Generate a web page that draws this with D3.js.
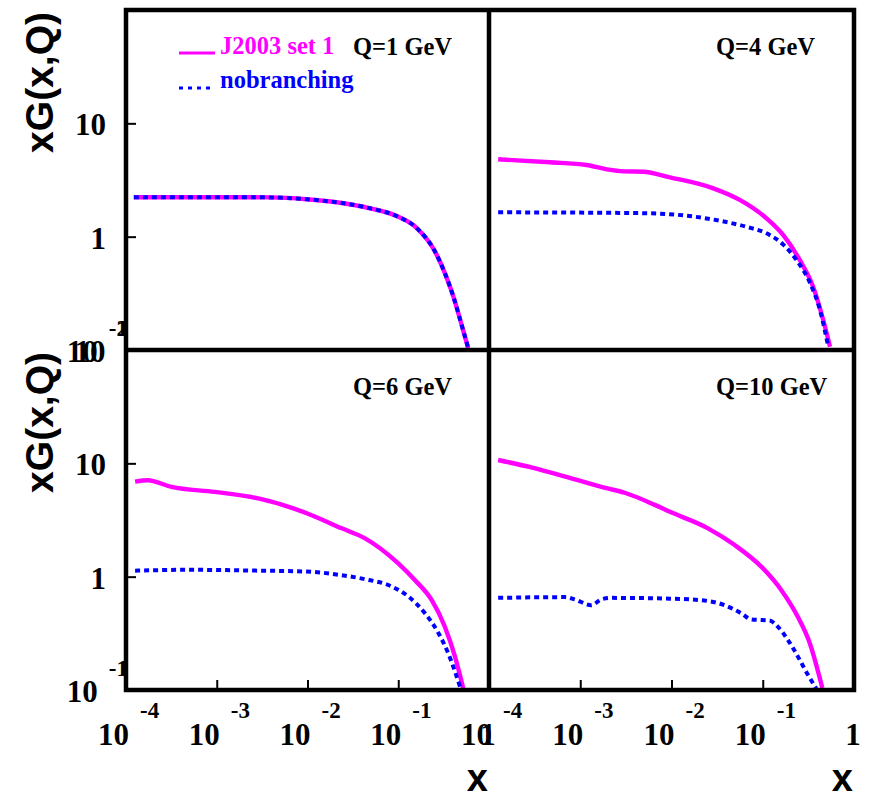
<!DOCTYPE html>
<html>
<head>
<meta charset="utf-8">
<script src="https://cdn.jsdelivr.net/npm/d3@7"></script>
<style>
  html, body { margin: 0; padding: 0; background: #fff; }
  svg { display: block; }
</style>
</head>
<body>
<div id="chart"></div>
<script>
// Gluon density xG(x,Q) at four scales: J2003 set 1 vs. no-branching evolution.

// x tick labels (base + exponent)
const xTickValues = [1e-4, 1e-3, 1e-2, 1e-1, 1];
const xTickBase = ["10", "10", "10", "10", "1"];
const xTickExp = ["-4", "-3", "-2", "-1", ""];

// y tick labels (base + exponent)
const yTickValues = [0.1, 1, 10, 100];
const yTickBase = ["10", "1", "10", "10"];
const yTickExp = ["-1", "", "", "2"];

const panelTitles = ["Q=1 GeV", "Q=4 GeV", "Q=6 GeV", "Q=10 GeV"];
const seriesNames = ["J2003 set 1", "nobranching"];

// Q = 1 GeV (both curves coincide)
const q1X = [1.22e-4, 3.2e-4, 1.09e-3, 3.86e-3, 9.8e-3, 0.021, 0.049, 0.096, 0.16, 0.254, 0.327, 0.405, 0.5, 0.59];
const q1J = [2.23, 2.23, 2.23, 2.22, 2.14, 2.01, 1.78, 1.52, 1.19, 0.74, 0.475, 0.296, 0.166, 0.104];
const q1N = [2.23, 2.23, 2.23, 2.22, 2.14, 2.01, 1.78, 1.52, 1.19, 0.74, 0.475, 0.296, 0.166, 0.104];

// Q = 4 GeV
const q4JX = [1.26e-4, 4.66e-4, 1.17e-3, 1.95e-3, 2.96e-3, 4.9e-3, 9.6e-3, 0.0287, 0.056, 0.11, 0.168, 0.255, 0.357, 0.46, 0.546];
const q4J = [4.82, 4.53, 4.29, 3.93, 3.77, 3.74, 3.34, 2.67, 2.11, 1.45, 1.03, 0.62, 0.36, 0.184, 0.107];
const q4NX = [1.26e-4, 1.0e-3, 5.3e-3, 0.0147, 0.034, 0.0667, 0.11, 0.168, 0.235, 0.33, 0.424, 0.522];
const q4N = [1.64, 1.63, 1.61, 1.53, 1.38, 1.22, 1.07, 0.85, 0.62, 0.39, 0.225, 0.107];

// Q = 6 GeV
const q6JX = [1.26e-4, 1.76e-4, 2.09e-4, 3.18e-4, 9.5e-4, 2.87e-3, 9.8e-3, 0.0238, 0.043, 0.1, 0.153, 0.234, 0.327, 0.422, 0.521];
const q6J = [6.9, 7.1, 6.9, 6.2, 5.6, 4.9, 3.63, 2.67, 2.18, 1.31, 0.93, 0.62, 0.36, 0.197, 0.103];
const q6NX = [1.26e-4, 4.86e-4, 2.87e-3, 9.8e-3, 0.0238, 0.043, 0.0845, 0.129, 0.197, 0.276, 0.356, 0.479];
const q6N = [1.13, 1.15, 1.13, 1.11, 1.03, 0.95, 0.82, 0.67, 0.475, 0.32, 0.21, 0.107];

// Q = 10 GeV
const q10JX = [1.26e-4, 2.91e-4, 9.4e-4, 2.01e-3, 3.07e-3, 6.55e-3, 9.5e-3, 0.0251, 0.0493, 0.1, 0.16, 0.243, 0.327, 0.45];
const q10J = [10.7, 9.2, 7.1, 6.0, 5.5, 4.3, 3.75, 2.67, 1.9, 1.19, 0.76, 0.44, 0.26, 0.104];
const q10NX = [1.26e-4, 6.8e-4, 8.7e-4, 1.32e-3, 1.7e-3, 2.19e-3, 9.5e-3, 0.0251, 0.0383, 0.0582, 0.075, 0.119, 0.147, 0.189, 0.243, 0.313, 0.386];
const q10N = [0.65, 0.66, 0.63, 0.56, 0.63, 0.65, 0.64, 0.61, 0.56, 0.475, 0.42, 0.41, 0.36, 0.276, 0.197, 0.136, 0.103];

const W = 871, H = 795;
const L = 126, M = 489, R = 854;   // column edges
const T = 10, C = 350, B = 690;    // row edges

const MAGENTA = "#ff00ff", BLUE = "#0000ff";
const SERIF = "'Liberation Serif', 'Times New Roman', serif";
const SANS = "'Liberation Sans', Arial, sans-serif";

const svg = d3.select("#chart").append("svg")
  .attr("width", W).attr("height", H);

const panels = [
  { col: 0, row: 0, title: panelTitles[0], jx: q1X, jy: q1J, nx: q1X, ny: q1N },
  { col: 1, row: 0, title: panelTitles[1], jx: q4JX, jy: q4J, nx: q4NX, ny: q4N },
  { col: 0, row: 1, title: panelTitles[2], jx: q6JX, jy: q6J, nx: q6NX, ny: q6N },
  { col: 1, row: 1, title: panelTitles[3], jx: q10JX, jy: q10J, nx: q10NX, ny: q10N }
];

const colEdges = [[L, M], [M, R]];
const rowEdges = [[T, C], [C, B]];

const minorX = d3.scaleLog().domain([1e-4, 1]).ticks().filter(v => !xTickValues.includes(v));
const minorY = d3.scaleLog().domain([0.1, 100]).ticks().filter(v => !yTickValues.includes(v));

panels.forEach((p, i) => {
  const [x0, x1] = colEdges[p.col];
  const [y0, y1] = rowEdges[p.row];
  const x = d3.scaleLog().domain([1e-4, 1]).range([x0, x1]);
  const y = d3.scaleLog().domain([0.1, 100]).range([y1, y0]);

  const clipId = "clip" + i;
  svg.append("clipPath").attr("id", clipId)
    .append("rect").attr("x", x0).attr("y", y0).attr("width", x1 - x0).attr("height", y1 - y0);

  const g = svg.append("g");
  const plot = g.append("g").attr("clip-path", `url(#${clipId})`);

  const line = d3.line().x(d => x(d[0])).y(d => y(d[1])).curve(d3.curveMonotoneX);

  plot.append("path")
    .datum(p.jx.map((v, k) => [v, p.jy[k]]))
    .attr("d", line)
    .attr("fill", "none").attr("stroke", MAGENTA)
    .attr("stroke-width", 4.4).attr("stroke-linejoin", "round");

  plot.append("path")
    .datum(p.nx.map((v, k) => [v, p.ny[k]]))
    .attr("d", line)
    .attr("fill", "none").attr("stroke", BLUE)
    .attr("stroke-width", 4).attr("stroke-dasharray", "5,4");

  // y ticks on the left column only
  if (p.col === 0) {
    const ay = g.append("g").attr("transform", `translate(${x0},0)`);
    ay.call(d3.axisRight(y).tickValues(minorY).tickSize(6).tickFormat(""));
    ay.call(d3.axisRight(y).tickValues(yTickValues).tickSize(10).tickFormat(""));
    ay.selectAll(".domain").remove();
    ay.selectAll("line").attr("stroke", "#000").attr("stroke-width", 2);
  }
  // x ticks on the bottom row only
  if (p.row === 1) {
    const ax = g.append("g").attr("transform", `translate(0,${y1})`);
    ax.call(d3.axisTop(x).tickValues(minorX).tickSize(6).tickFormat(""));
    ax.call(d3.axisTop(x).tickValues(xTickValues).tickSize(10).tickFormat(""));
    ax.selectAll(".domain").remove();
    ax.selectAll("line").attr("stroke", "#000").attr("stroke-width", 2);
  }

  g.append("text")
    .attr("x", x0 + 227).attr("y", y0 + 45)
    .attr("font-family", SERIF).attr("font-weight", "bold")
    .attr("font-size", 24.5).attr("fill", "#000")
    .text(p.title);

  p.xScale = x; p.yScale = y;
});

// x tick labels under the bottom row
[0, 1].forEach(col => {
  const x = panels[2 + col].xScale;
  xTickValues.forEach((v, k) => {
    const tx = x(v);
    if (xTickExp[k]) {
      svg.append("text")
        .attr("x", tx + 3).attr("y", 745).attr("text-anchor", "end")
        .attr("font-family", SERIF).attr("font-weight", "bold").attr("font-size", 31)
        .text(xTickBase[k]);
      svg.append("text")
        .attr("x", tx + 14).attr("y", 718)
        .attr("font-family", SERIF).attr("font-weight", "bold").attr("font-size", 23)
        .text(xTickExp[k]);
    } else {
      svg.append("text")
        .attr("x", tx - 1).attr("y", 745).attr("text-anchor", "middle")
        .attr("font-family", SERIF).attr("font-weight", "bold").attr("font-size", 31)
        .text(xTickBase[k]);
    }
  });
  // axis title
  svg.append("text")
    .attr("x", colEdges[col][1] - 1).attr("y", 791).attr("text-anchor", "end")
    .attr("font-family", SANS).attr("font-weight", "bold").attr("font-size", 38)
    .text("x");
});

// y tick labels on the left column
[0, 1].forEach(row => {
  const y = panels[row * 2].yScale;
  yTickValues.forEach((v, k) => {
    if (row === 0 && v === 100) return;
    const ty = y(v);
    if (yTickExp[k]) {
      const e = svg.append("text")
        .attr("x", 128).attr("y", ty - 14).attr("text-anchor", "end")
        .attr("font-family", SERIF).attr("font-weight", "bold").attr("font-size", 23)
        .text(yTickExp[k]);
      const ew = e.node().getComputedTextLength();
      svg.append("text")
        .attr("x", 128 - ew - 11).attr("y", ty + 12).attr("text-anchor", "end")
        .attr("font-family", SERIF).attr("font-weight", "bold").attr("font-size", 31)
        .text(yTickBase[k]);
    } else {
      svg.append("text")
        .attr("x", 106).attr("y", ty + 12).attr("text-anchor", "end")
        .attr("font-family", SERIF).attr("font-weight", "bold").attr("font-size", 31)
        .text(yTickBase[k]);
    }
  });
  // axis title
  svg.append("text")
    .attr("transform", `translate(53,${rowEdges[row][0] + 2}) rotate(-90)`)
    .attr("text-anchor", "end")
    .attr("font-family", SANS).attr("font-weight", "bold").attr("font-size", 39)
    .text("xG(x,Q)");
});

// legend in the first panel
const legend = svg.append("g");
legend.append("line")
  .attr("x1", 179).attr("x2", 215).attr("y1", 53).attr("y2", 53)
  .attr("stroke", MAGENTA).attr("stroke-width", 3);
legend.append("text")
  .attr("x", 220).attr("y", 54)
  .attr("font-family", SERIF).attr("font-weight", "bold").attr("font-size", 24.5)
  .attr("fill", MAGENTA).text(seriesNames[0]);
legend.append("line")
  .attr("x1", 179).attr("x2", 215).attr("y1", 88).attr("y2", 88)
  .attr("stroke", BLUE).attr("stroke-width", 3).attr("stroke-dasharray", "4,5");
legend.append("text")
  .attr("x", 220).attr("y", 88)
  .attr("font-family", SERIF).attr("font-weight", "bold").attr("font-size", 24.5)
  .attr("fill", BLUE).text(seriesNames[1]);

// panel frames
const frame = svg.append("g").attr("fill", "none").attr("stroke", "#000").attr("stroke-width", 4.5);
frame.append("rect").attr("x", L).attr("y", T).attr("width", R - L).attr("height", B - T);
frame.append("line").attr("x1", M).attr("x2", M).attr("y1", T).attr("y2", B);
frame.append("line").attr("x1", L).attr("x2", R).attr("y1", C).attr("y2", C);
</script>
</body>
</html>
